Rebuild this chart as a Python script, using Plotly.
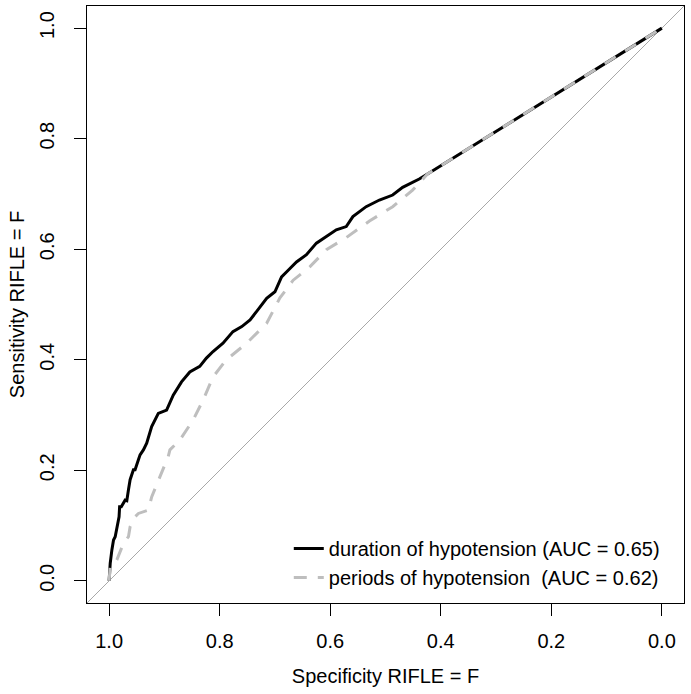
import plotly.graph_objects as go

# ROC curve: duration of hypotension (AUC = 0.65)
dur_spec = [1.000, 0.998, 0.995, 0.992, 0.989, 0.986, 0.982, 0.981, 0.978, 0.971, 0.968,
            0.965, 0.962, 0.956, 0.953, 0.947, 0.944, 0.938, 0.932, 0.923, 0.911, 0.896,
            0.884, 0.869, 0.854, 0.836, 0.824, 0.812, 0.794, 0.776, 0.760, 0.745, 0.727,
            0.715, 0.700, 0.688, 0.676, 0.661, 0.643, 0.625, 0.607, 0.589, 0.571, 0.559,
            0.535, 0.511, 0.487, 0.469, 0.439, 0.424, 0.000]
dur_sens = [0.000, 0.032, 0.056, 0.074, 0.080, 0.095, 0.116, 0.134, 0.134, 0.146, 0.145,
            0.165, 0.183, 0.201, 0.201, 0.219, 0.228, 0.237, 0.249, 0.279, 0.303, 0.309,
            0.336, 0.360, 0.378, 0.388, 0.403, 0.415, 0.430, 0.451, 0.460, 0.472, 0.495,
            0.511, 0.523, 0.550, 0.562, 0.577, 0.590, 0.611, 0.623, 0.635, 0.641, 0.659,
            0.677, 0.689, 0.698, 0.712, 0.727, 0.736, 1.000]

# ROC curve: periods of hypotension (AUC = 0.62)
per_spec = [1.000, 0.998, 0.989, 0.986, 0.974, 0.965, 0.962, 0.953, 0.947, 0.929, 0.923,
            0.908, 0.893, 0.890, 0.872, 0.848, 0.830, 0.812, 0.788, 0.751, 0.715, 0.691,
            0.667, 0.637, 0.607, 0.571, 0.529, 0.487, 0.451, 0.424, 0.000]
per_sens = [0.000, 0.026, 0.032, 0.038, 0.068, 0.080, 0.098, 0.116, 0.122, 0.128, 0.152,
            0.189, 0.225, 0.237, 0.255, 0.291, 0.327, 0.369, 0.400, 0.430, 0.466, 0.512,
            0.544, 0.568, 0.599, 0.621, 0.651, 0.677, 0.707, 0.736, 1.000]

tick_vals = [0.0, 0.2, 0.4, 0.6, 0.8, 1.0]
tick_text = ["0.0", "0.2", "0.4", "0.6", "0.8", "1.0"]

FONT = "Liberation Sans, Arial, sans-serif"

fig = go.Figure()
fig.add_trace(go.Scatter(
    x=dur_spec, y=dur_sens, mode="lines",
    name="duration of hypotension (AUC = 0.65)",
    line=dict(color="black", width=3),
))
fig.add_trace(go.Scatter(
    x=per_spec, y=per_sens, mode="lines",
    name="periods of hypotension\u00a0 (AUC = 0.62)",
    line=dict(color="#BEBEBE", width=3, dash="13px,11px"),
))

# chance diagonal (abline), corner to corner of the plot box
fig.add_shape(type="line", xref="x domain", yref="y domain",
              x0=0, y0=0, x1=1, y1=1,
              line=dict(color="#A8A8A8", width=1), layer="below")

axis_common = dict(
    showgrid=False, zeroline=False, automargin=False,
    showline=True, linecolor="black", linewidth=1, mirror=True,
    ticks="outside", ticklen=12, tickwidth=1, tickcolor="black",
    tickvals=tick_vals, ticktext=tick_text,
    tickfont=dict(family=FONT, size=20, color="black"),
)

fig.update_xaxes(range=[1.04, -0.04], ticklabelstandoff=8,
                 title=dict(text="Specificity RIFLE = F",
                            font=dict(family=FONT, size=20, color="black"), standoff=17),
                 **axis_common)
fig.update_yaxes(range=[-0.04, 1.04], tickangle=-90, ticklabelstandoff=12,
                 title=dict(text="Sensitivity RIFLE = F",
                            font=dict(family=FONT, size=20, color="black"), standoff=6),
                 **axis_common)

fig.update_layout(
    width=691, height=694,
    margin=dict(l=87, r=7, t=6, b=91),
    paper_bgcolor="white", plot_bgcolor="white",
    font=dict(family=FONT, size=20, color="black"),
    showlegend=True,
    legend=dict(x=0.338, y=0.124, xanchor="left", yanchor="top",
                bgcolor="rgba(0,0,0,0)", borderwidth=0,
                font=dict(family=FONT, size=20, color="black"),
                tracegroupgap=0),
)

fig.write_html("out.html", config={"displayModeBar": False},
               post_script="document.body.style.margin='0px';")
